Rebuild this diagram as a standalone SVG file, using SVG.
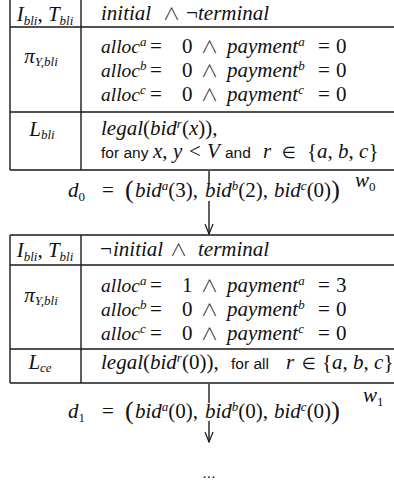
<svg xmlns="http://www.w3.org/2000/svg" width="394" height="489" viewBox="0 0 394 489">
<defs>
<style>
.ln{stroke:#1a1a1a;stroke-width:1.4;fill:none}
.m{font-family:"Liberation Serif",serif;font-style:italic;font-size:21px;fill:#111}
.u{font-style:normal}
.al{font-size:19.5px}
.w{font-family:"Noto Sans CJK SC","DejaVu Sans",sans-serif;font-style:normal;font-weight:300;font-size:17px}
.e{font-family:"DejaVu Sans",sans-serif;font-style:normal;font-size:16px}
.s{font-family:"Liberation Sans",sans-serif;font-style:normal;font-size:15.5px}
.sm{font-size:13px}
.big{font-style:normal;font-size:26px}
</style>
<marker id="ah" markerWidth="12" markerHeight="10" refX="11" refY="5" orient="auto" markerUnits="userSpaceOnUse" viewBox="0 0 12 10">
<path d="M1,1 L11,5 L1,9" fill="none" stroke="#1a1a1a" stroke-width="1.2"/>
</marker>
</defs>
<rect width="394" height="489" fill="#fff"/>

<g id="table0">
<path class="ln" d="M10,0 V170 M81,0 V170 M10,27 H394 M10,112 H394 M10,170 H394"/>
<text class="m" x="45" y="21" text-anchor="middle">I<tspan class="sm" dy="4">bli</tspan><tspan class="u" dy="-4">, </tspan>T<tspan class="sm" dy="4">bli</tspan></text>
<text class="m" y="20"><tspan x="101">initial</tspan><tspan class="w" x="163">∧</tspan><tspan class="u" x="186">¬</tspan><tspan x="198">terminal</tspan></text>
<text class="m" x="41" y="63" text-anchor="middle">π<tspan class="sm" dy="3">Y,bli</tspan></text>
<text class="m" y="53"><tspan class="al" x="101">alloc</tspan><tspan class="sm" dy="-7">a</tspan><tspan class="u" x="150" dy="7">=</tspan><tspan class="u" x="182">0</tspan><tspan class="w" x="201">∧</tspan><tspan x="227">payment</tspan><tspan class="sm" dy="-7">a</tspan><tspan class="u" x="318" dy="7">=</tspan><tspan class="u" x="336">0</tspan></text>
<text class="m" y="77"><tspan class="al" x="101">alloc</tspan><tspan class="sm" dy="-7">b</tspan><tspan class="u" x="150" dy="7">=</tspan><tspan class="u" x="182">0</tspan><tspan class="w" x="201">∧</tspan><tspan x="227">payment</tspan><tspan class="sm" dy="-7">b</tspan><tspan class="u" x="318" dy="7">=</tspan><tspan class="u" x="336">0</tspan></text>
<text class="m" y="101"><tspan class="al" x="101">alloc</tspan><tspan class="sm" dy="-7">c</tspan><tspan class="u" x="150" dy="7">=</tspan><tspan class="u" x="182">0</tspan><tspan class="w" x="201">∧</tspan><tspan x="227">payment</tspan><tspan class="sm" dy="-7">c</tspan><tspan class="u" x="318" dy="7">=</tspan><tspan class="u" x="336">0</tspan></text>
<text class="m" x="42" y="136" text-anchor="middle">L<tspan class="sm" dy="3">bli</tspan></text>
<text class="m" x="101" y="135">legal<tspan class="u">(</tspan>bid<tspan class="sm" dy="-7">r</tspan><tspan class="u" dy="7">(</tspan>x<tspan class="u">)),</tspan></text>
<text class="m" y="158"><tspan class="s" x="101">for any</tspan><tspan x="153">x</tspan><tspan class="u">,</tspan><tspan x="173">y</tspan><tspan class="u" x="189">&lt;</tspan><tspan x="207">V</tspan><tspan class="s" x="225">and</tspan><tspan x="263">r</tspan><tspan class="e" x="282">∈</tspan><tspan class="u" x="307">{</tspan>a<tspan class="u">,    </tspan>b<tspan class="u">,    </tspan>c<tspan class="u">}</tspan></text>
</g>

<g id="label0">
<text class="m" y="197"><tspan x="68">d</tspan><tspan class="u sm" dy="4">0</tspan><tspan class="u" x="102" dy="-4">=</tspan><tspan class="big" x="125" dy="1">(</tspan><tspan x="135" dy="-1">bid</tspan><tspan class="sm" dy="-7">a</tspan><tspan class="u" dy="7">(3),</tspan><tspan x="205">bid</tspan><tspan class="sm" dy="-7">b</tspan><tspan class="u" dy="7">(2),</tspan><tspan x="274">bid</tspan><tspan class="sm" dy="-7">c</tspan><tspan class="u" dy="7">(0)</tspan><tspan class="big" dy="1">)</tspan></text>
<text class="m" x="355" y="187">w<tspan class="u sm" dy="4">0</tspan></text>
</g>

<g id="table1">
<path class="ln" d="M10,235 V383 M81,235 V383 M10,235 H394 M10,265 H394 M10,349 H394 M10,383 H394"/>
<text class="m" x="45" y="257" text-anchor="middle">I<tspan class="sm" dy="4">bli</tspan><tspan class="u" dy="-4">, </tspan>T<tspan class="sm" dy="4">bli</tspan></text>
<text class="m" y="256"><tspan class="u" x="100">¬</tspan><tspan x="113">initial</tspan><tspan class="w" x="170">∧</tspan><tspan x="198">terminal</tspan></text>
<text class="m" x="41" y="302" text-anchor="middle">π<tspan class="sm" dy="3">Y,bli</tspan></text>
<text class="m" y="292"><tspan class="al" x="101">alloc</tspan><tspan class="sm" dy="-7">a</tspan><tspan class="u" x="150" dy="7">=</tspan><tspan class="u" x="182">1</tspan><tspan class="w" x="201">∧</tspan><tspan x="227">payment</tspan><tspan class="sm" dy="-7">a</tspan><tspan class="u" x="318" dy="7">=</tspan><tspan class="u" x="336">3</tspan></text>
<text class="m" y="316"><tspan class="al" x="101">alloc</tspan><tspan class="sm" dy="-7">b</tspan><tspan class="u" x="150" dy="7">=</tspan><tspan class="u" x="182">0</tspan><tspan class="w" x="201">∧</tspan><tspan x="227">payment</tspan><tspan class="sm" dy="-7">b</tspan><tspan class="u" x="318" dy="7">=</tspan><tspan class="u" x="336">0</tspan></text>
<text class="m" y="340"><tspan class="al" x="101">alloc</tspan><tspan class="sm" dy="-7">c</tspan><tspan class="u" x="150" dy="7">=</tspan><tspan class="u" x="182">0</tspan><tspan class="w" x="201">∧</tspan><tspan x="227">payment</tspan><tspan class="sm" dy="-7">c</tspan><tspan class="u" x="318" dy="7">=</tspan><tspan class="u" x="336">0</tspan></text>
<text class="m" x="40" y="369" text-anchor="middle">L<tspan class="sm" dy="3">ce</tspan></text>
<text class="m" x="101" y="369">legal<tspan class="u">(</tspan>bid<tspan class="sm" dy="-7">r</tspan><tspan class="u" dy="7">(0)),</tspan><tspan class="s" x="231">for all</tspan><tspan x="286">r</tspan><tspan class="e" x="302">∈</tspan><tspan class="u" x="322">{</tspan>a<tspan class="u">, </tspan>b<tspan class="u">, </tspan>c<tspan class="u">}</tspan></text>
</g>

<g id="label1">
<text class="m" y="418"><tspan x="68">d</tspan><tspan class="u sm" dy="4">1</tspan><tspan class="u" x="102" dy="-4">=</tspan><tspan class="big" x="125" dy="1">(</tspan><tspan x="135" dy="-1">bid</tspan><tspan class="sm" dy="-7">a</tspan><tspan class="u" dy="7">(0),</tspan><tspan x="205">bid</tspan><tspan class="sm" dy="-7">b</tspan><tspan class="u" dy="7">(0),</tspan><tspan x="274">bid</tspan><tspan class="sm" dy="-7">c</tspan><tspan class="u" dy="7">(0)</tspan><tspan class="big" dy="1">)</tspan></text>
<text class="m" x="363" y="402">w<tspan class="u sm" dy="4">1</tspan></text>
<text class="s" x="209" y="478" text-anchor="middle" fill="#111">...</text>
</g>

<g id="connectors">
<path class="ln" d="M209,171 V184"/>
<path class="ln" d="M209,201 V234" marker-end="url(#ah)"/>
<path class="ln" d="M209,384 V403"/>
<path class="ln" d="M209,421 V442" marker-end="url(#ah)"/>
</g>
</svg>
